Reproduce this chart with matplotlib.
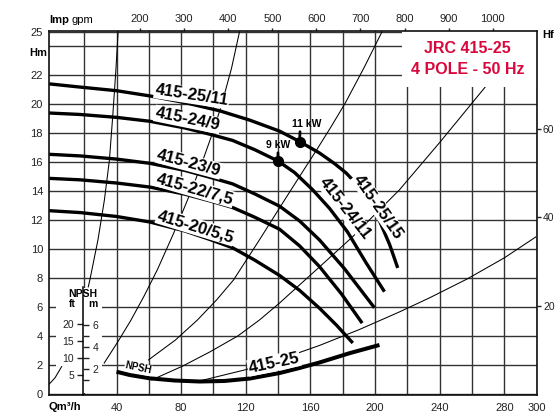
import matplotlib
matplotlib.use('Agg')
import matplotlib.pyplot as plt
from matplotlib.patches import Rectangle

plt.rcParams['font.family'] = ['Liberation Sans', 'DejaVu Sans']

# ---------------- data (Q in m3/h, H in m) ----------------
q_25 = [-1.6, 17.4, 40.0, 60.6, 82.2, 103.9, 122.4, 140.9, 153.3, 165.6, 174.9, 182.1, 190.5, 196.7, 202.9, 209.0, 214.0]
h_25 = [21.39, 21.17, 20.92, 20.56, 20.10, 19.53, 18.89, 18.13, 17.41, 16.62, 15.89, 15.24, 14.24, 13.20, 11.89, 10.30, 8.69]

q_24 = [-1.6, 17.4, 40.0, 60.6, 82.2, 97.6, 111.8, 125.5, 139.9, 150.2, 161.3, 171.8, 182.9, 194.5, 205.8]
h_24 = [19.38, 19.28, 19.08, 18.81, 18.35, 17.92, 17.49, 16.85, 16.07, 15.27, 14.09, 12.80, 11.18, 9.03, 7.05]

q_23 = [-1.6, 17.4, 40.0, 60.6, 82.2, 97.6, 111.8, 125.5, 140.9, 153.3, 165.6, 181.1, 199.6]
h_23 = [16.53, 16.42, 16.20, 15.91, 15.42, 14.95, 14.49, 13.80, 12.95, 11.93, 10.62, 8.63, 5.94]

q_22 = [-1.6, 17.4, 40.0, 60.6, 82.2, 97.6, 111.8, 125.5, 140.9, 153.3, 165.6, 179.3, 192.0]
h_22 = [14.87, 14.77, 14.55, 14.27, 13.78, 13.32, 12.86, 12.19, 11.36, 10.21, 8.78, 6.88, 4.88]

q_20 = [-1.6, 17.4, 40.0, 60.6, 82.2, 97.6, 111.8, 125.5, 140.9, 153.3, 165.6, 176.1, 186.2]
h_20 = [12.64, 12.51, 12.24, 11.86, 11.24, 10.66, 10.08, 9.23, 8.17, 7.14, 5.91, 4.74, 3.51]

# NPSH (m, own scale)
q_npsh = [40.0, 48.2, 60.6, 76.1, 91.5, 106.9, 122.4, 140.9, 153.3, 165.6, 184.1, 202.7]
n_npsh = [1.78, 1.48, 1.18, 0.98, 0.89, 0.94, 1.16, 1.66, 2.12, 2.62, 3.46, 4.21]

# friction loss (Hf) lines
q_fa = [41.0, 39.6, 37.7, 35.6, 32.5, 28.5, 23.5, 22.5]
h_fa = [25.04, 22.35, 19.24, 16.14, 13.38, 10.62, 7.86, 7.38]
q_fa2 = [-1.6, 1.9, 6.05]
h_fa2 = [0.68, 1.10, 1.88]
q_fb = [116.2, 111.2, 105.0, 100.1, 94.6, 89.1, 83.2, 74.9, 65.2, 57.1, 49.0, 40.8, 32.4]
h_fb = [25.04, 22.49, 19.94, 18.22, 16.49, 14.84, 13.18, 10.97, 8.55, 6.76, 5.10, 3.59, 2.13]
q_fc = [204.5, 193.4, 181.6, 172.7, 163.8, 153.9, 144.0, 128.4, 112.4, 101.9, 90.1, 76.5, 62.3, 59.8]
h_fc = [25.04, 22.56, 20.08, 18.42, 16.83, 15.11, 13.38, 10.62, 7.86, 6.48, 5.10, 3.72, 2.55, 2.34]
q_fd = [293.5, 268.2, 239.7, 215.0, 186.0, 165.6, 140.9, 128.5, 115.0, 97.7, 81.0, 61.8]
h_fd = [25.04, 21.18, 17.31, 14.07, 10.83, 8.76, 6.27, 5.10, 3.99, 2.89, 1.92, 0.96]
q_fe = [299.5, 279.9, 257.0, 233.6, 215.0, 190.3, 165.6, 140.9, 119.3, 91.5]
h_fe = [10.83, 9.38, 7.93, 6.62, 5.65, 4.44, 3.34, 2.37, 1.65, 0.89]

# power points
kw_q = [153.3, 139.9]
kw_h = [17.41, 16.07]
kw_labels = ['11 kW', '9 kW']

# axis ticks
x_ticks = [40, 80, 120, 160, 200, 240, 280, 300]
y_ticks = [0, 2, 4, 6, 8, 10, 12, 14, 16, 18, 20, 22, 25]
gpm_ticks = [200, 300, 400, 500, 600, 700, 800, 900, 1000]
ft_ticks = [20, 40, 60]
npsh_ft_ticks = [5, 10, 15, 20]
npsh_m_ticks = [2, 4, 6]

W, H = 556, 412
fig = plt.figure(figsize=(W / 100, H / 100), dpi=100)
L, R, T, B = 49.3, 536.7, 31.0, 395.0
ax = fig.add_axes([L / W, 1 - B / H, (R - L) / W, (B - T) / H])
ax.set_xlim(-1.6, 300)
ax.set_ylim(-0.08, 25.04)


def fx(px):
    return px / W


def fy(py):
    return 1 - py / H


# grid
ax.set_xticks(x_ticks)
ax.set_xticks(list(range(20, 300, 20)), minor=True)
ax.set_yticks(y_ticks)
ax.set_yticks(list(range(2, 25, 2)), minor=True)
ax.grid(which='both', color='#333333', lw=1.0)
ax.set_axisbelow(True)
ax.tick_params(which='both', length=0, labelsize=8, colors='#222222')
ax.tick_params(axis='x', pad=5.5)
ax.tick_params(axis='y', pad=4.5)
for s in ax.spines.values():
    s.set_linewidth(1.2)
    s.set_color('#111111')

# friction lines
for q, h in [(q_fa, h_fa), (q_fb, h_fb), (q_fc, h_fc), (q_fd, h_fd), (q_fe, h_fe)]:
    ax.plot(q, h, color='black', lw=0.75, zorder=2)

# white areas
ax.add_patch(Rectangle(((56 - 51.9) / 1.6188, 0.05), (102 - 56) / 1.6188, 7.25,
                       fc='white', ec='none', zorder=2.5))
ax.add_patch(Rectangle(((403 - 51.9) / 1.6188, (393.9 - 87) / 14.49), 300, 10,
                       fc='white', ec='none', zorder=2.5))
ax.plot(q_fa2, h_fa2, color='black', lw=0.75, zorder=2.6)

# pump curves
for q, h in [(q_25, h_25), (q_24, h_24), (q_23, h_23), (q_22, h_22), (q_20, h_20)]:
    ax.plot(q, h, color='black', lw=2.4, zorder=4, solid_capstyle='butt',
            solid_joinstyle='round')

# power points
ax.plot(kw_q, kw_h, 'o', color='black', ms=7, zorder=5)
offs = [(5.0, 12.7), (0.0, 11.5)]
rel = [0.28, 0.5]
for q, h, lab, o, r in zip(kw_q, kw_h, kw_labels, offs, rel):
    ax.annotate(lab, xy=(q, h), xytext=o, textcoords='offset points',
                ha='center', va='center', fontsize=7.5, fontweight='bold',
                arrowprops=dict(arrowstyle='-', lw=2, color='black',
                                shrinkA=0, shrinkB=0, relpos=(r, 0.0)),
                zorder=5)

# curve labels
bb = dict(fc='white', ec='none', pad=0.6)
labels = [
    ('415-25/11', 191.7, 95.5, -8.7),
    ('415-24/9', 187.5, 119.5, -11.5),
    ('415-23/9', 189.0, 163.0, -15),
    ('415-22/7,5', 195.0, 189.0, -16),
    ('415-20/5,5', 195.7, 226.7, -17),
    ('415-25/15', 378.3, 206.7, -55),
    ('415-24/11', 345.0, 208.3, -52),
    ('415-25', 274.0, 363.0, 12),
]
for t, px, py, rot in labels:
    fig.text(fx(px), fy(py), t, fontsize=12, fontweight='bold', rotation=rot,
             ha='center', va='center', rotation_mode='anchor', bbox=bb, zorder=3)
fig.text(fx(138.3), fy(368.3), 'NPSH', fontsize=7, fontweight='bold',
         rotation=-12, ha='center', va='center', rotation_mode='anchor',
         bbox=dict(fc='white', ec='none', pad=0.3), zorder=3)

# NPSH curve on its own scale (0 m at y=391.3 px, 11 px per m)
ax_n = ax.twinx()
ax_n.set_ylim((391.3 - B) / 11, (391.3 - T) / 11)
ax_n.axis('off')
ax_n.plot(q_npsh, n_npsh, color='black', lw=2.9, solid_capstyle='butt',
          solid_joinstyle='round')

# right Hf axis in ft
ax_r = ax.twinx()
ax_r.set_ylim(-0.08 / 0.3048, 25.04 / 0.3048)
ax_r.set_yticks(ft_ticks)
ax_r.tick_params(axis='y', direction='out', length=3, width=1, labelsize=7.5, pad=1.5,
                 colors='#222222')
for s in ax_r.spines.values():
    s.set_visible(False)

# top axis in Imp gpm
sec = ax.secondary_xaxis('top', functions=(lambda q: q / 0.27276, lambda g: g * 0.27276))
sec.set_xticks(gpm_ticks)
sec.tick_params(direction='out', length=2.5, width=1, labelsize=8, pad=2.5, colors='#222222')
sec.spines['top'].set_visible(False)

# NPSH scale
ax_s = fig.add_axes([83.3 / W, 1 - B / H, 0.0001, (B - T) / H])
ax_s.set_ylim((391.3 - B) / 11 * 3.2808, (391.3 - T) / 11 * 3.2808)
ax_s.set_xticks([])
ax_s.set_yticks(npsh_ft_ticks)
ax_s.tick_params(axis='y', direction='out', length=4, width=1, labelsize=7.5, pad=2.5,
                 colors='#222222')
for k in ['top', 'right', 'bottom']:
    ax_s.spines[k].set_visible(False)
ax_s.spines['left'].set_bounds((391.3 - B) / 11 * 3.2808, 9.5 * 3.2808)
ax_s.spines['left'].set_linewidth(1.1)
ax_s.patch.set_alpha(0)
ax_s2 = ax_s.twinx()
ax_s2.set_ylim((391.3 - B) / 11, (391.3 - T) / 11)
ax_s2.set_yticks(npsh_m_ticks)
ax_s2.set_yticks([1, 3, 5], minor=True)
ax_s2.tick_params(axis='y', which='both', direction='out', length=4, width=1,
                  labelsize=7.5, pad=2.5, colors='#222222')
for s in ax_s2.spines.values():
    s.set_visible(False)
fig.text(fx(83.3), fy(294), 'NPSH', fontsize=7.5, fontweight='bold', ha='center', va='center')
fig.text(fx(72.7), fy(304.3), 'ft', fontsize=7.5, fontweight='bold', ha='center', va='center')
fig.text(fx(92.7), fy(304.3), 'm', fontsize=7.5, fontweight='bold', ha='center', va='center')

# axis titles
fig.text(fx(65), fy(406.7), 'Qm³/h', fontsize=8, fontweight='bold', ha='center', va='center')
fig.text(fx(38), fy(52.7), 'Hm', fontsize=8, fontweight='bold', ha='center', va='center')
fig.text(fx(548), fy(35), 'Hf', fontsize=8, fontweight='bold', ha='center', va='center')
fig.text(fx(49.5), fy(20), 'Imp', fontsize=8, fontweight='bold', ha='left', va='center')
fig.text(fx(71.5), fy(20), 'gpm', fontsize=8, ha='left', va='center')

# title
red = '#d8083c'
for txt, py in [('JRC 415-25', 48.3), ('4 POLE - 50 Hz', 69.5)]:
    fig.text(fx(467.5), fy(py), txt, color=red, fontsize=11.5, fontweight='bold',
             ha='center', va='center')

fig.savefig('out.png', dpi=100)
